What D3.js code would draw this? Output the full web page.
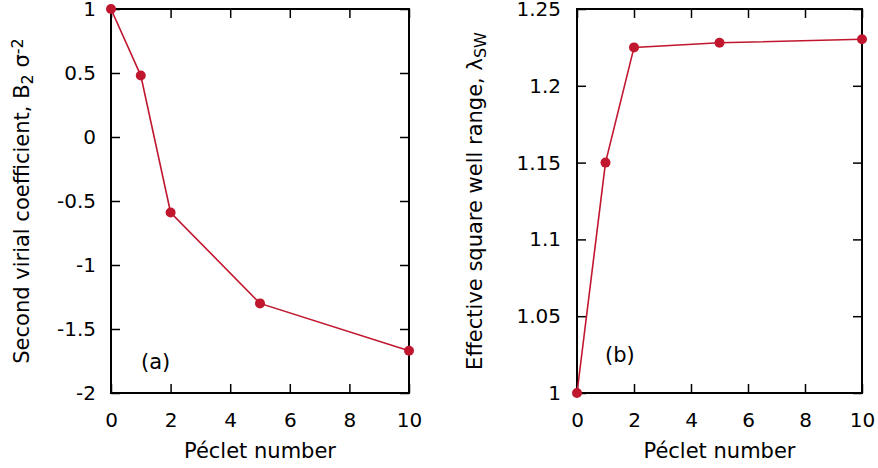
<!DOCTYPE html>
<html lang="en">
  <head>
    <meta charset="utf-8">
    <script src="https://cdnjs.cloudflare.com/ajax/libs/d3/7.8.5/d3.min.js"></script>
    <title>Peclet number</title>
    <style>
      body { margin: 0; background: #fff; }
      text { font-family: "DejaVu Sans", sans-serif; fill: #000; }
    </style>
  </head>
  <body>
    <script>

    // data
    var peclet = [0, 1, 2, 5, 10];
    var virial = [1, 0.48, -0.59, -1.3, -1.67];
    var wellRange = [1, 1.15, 1.225, 1.228, 1.2303];

    var xTicks = [0, 2, 4, 6, 8, 10];
    var virialTicks = [1, 0.5, 0, -0.5, -1, -1.5, -2];
    var rangeTicks = [1, 1.05, 1.1, 1.15, 1.2, 1.25];

    var red = "#c0172f";

    var svg = d3.select("body").append("svg")
      .attr("width", 878)
      .attr("height", 468);

    function panel(opts) {
      var x = d3.scaleLinear().domain([0, 10]).range([opts.left, opts.right]);
      var y = d3.scaleLinear().domain(opts.ydom).range([393, 9]);
      var g = svg.append("g");

      // ticks on all four sides, pointing in
      var ax = [
        [d3.axisBottom(x).tickValues(xTicks).tickSize(-9).tickPadding(20).tickFormat(d3.format("d")), "translate(0,393)"],
        [d3.axisTop(x).tickValues(xTicks).tickSize(-9).tickFormat(""), "translate(0,9)"],
        [d3.axisLeft(y).tickValues(opts.yticks).tickSize(-9).tickPadding(opts.ypad).tickFormat(opts.fmt), "translate(" + opts.left + ",0)"],
        [d3.axisRight(y).tickValues(opts.yticks).tickSize(-9).tickFormat(""), "translate(" + opts.right + ",0)"]
      ];
      ax.forEach(function(a) {
        var s = g.append("g").attr("transform", a[1]).call(a[0]);
        s.select(".domain").remove();
        s.selectAll("line").attr("stroke", "#000").attr("stroke-width", 1.5);
        s.selectAll("text").style("font-size", "20px").style("font-family", "DejaVu Sans");
      });

      g.append("rect")
        .attr("x", opts.left).attr("y", 9)
        .attr("width", opts.right - opts.left).attr("height", 384)
        .attr("fill", "none").attr("stroke", "#000").attr("stroke-width", 2);

      var pts = peclet.map(function(p, i) { return [p, opts.values[i]]; });
      g.append("path")
        .datum(pts)
        .attr("fill", "none")
        .attr("stroke", red)
        .attr("stroke-width", 1.6)
        .attr("d", d3.line().x(function(d) { return x(d[0]); }).y(function(d) { return y(d[1]); }));

      g.selectAll("circle.pt").data(pts).enter().append("circle")
        .attr("class", "pt")
        .attr("cx", function(d) { return x(d[0]); })
        .attr("cy", function(d) { return y(d[1]); })
        .attr("r", 5)
        .attr("fill", red);

      g.append("text")
        .attr("x", (opts.left + opts.right) / 2)
        .attr("y", 458)
        .attr("text-anchor", "middle")
        .style("font-size", "21px")
        .text("Péclet number");

      g.append("text")
        .attr("x", opts.tagX).attr("y", opts.tagY)
        .style("font-size", "21px")
        .text(opts.tag);

      var yl = g.append("text")
        .attr("transform", "translate(" + opts.labelX + ",201) rotate(-90)")
        .attr("text-anchor", "middle")
        .style("font-size", "21px");
      opts.label(yl);
    }

    panel({
      left: 111, right: 409,
      ydom: [-2, 1], yticks: virialTicks, ypad: 15,
      fmt: function(d) { return d3.format("")(d).replace("−", "-"); },
      values: virial,
      tag: "(a)", tagX: 141, tagY: 369,
      labelX: 28.5,
      label: function(t) {
        t.append("tspan").text("Second virial coefficient, B");
        t.append("tspan").attr("baseline-shift", "-25%").style("font-size", "16px").text("2");
        t.append("tspan").text(" σ");
        t.append("tspan").attr("baseline-shift", "40%").style("font-size", "16px").text("-2");
      }
    });

    panel({
      left: 577, right: 862,
      ydom: [1, 1.25], yticks: rangeTicks, ypad: 16,
      fmt: function(d) { return d3.format("")(d); },
      values: wellRange,
      tag: "(b)", tagX: 605, tagY: 362,
      labelX: 481.5,
      label: function(t) {
        t.append("tspan").text("Effective square well range, λ");
        t.append("tspan").attr("baseline-shift", "-25%").style("font-size", "16px").text("SW");
      }
    });

    </script>
  </body>
</html>
